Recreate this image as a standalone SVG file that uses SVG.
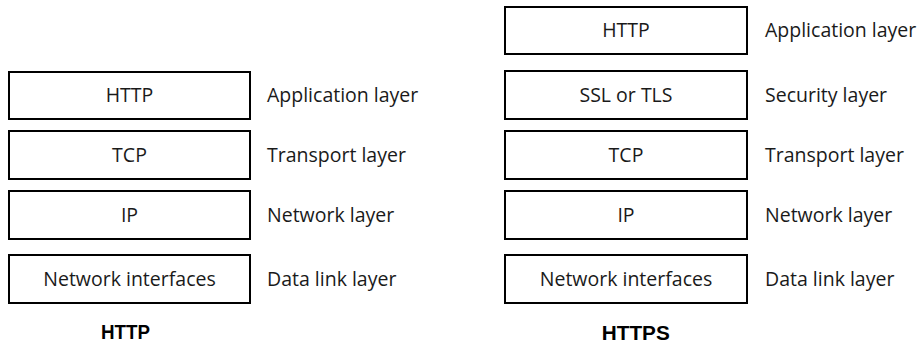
<svg xmlns="http://www.w3.org/2000/svg" width="924" height="344" viewBox="0 0 924 344">
<style>
.box{fill:#fff;stroke:#000;stroke-width:2}
.t{font-family:"Open Sans","Noto Sans","Liberation Sans",sans-serif;font-size:19.5px;fill:#1a1a1a}
.c{text-anchor:middle}
.cap{font-family:"Liberation Sans",Arial,sans-serif;font-weight:bold;font-size:20px;fill:#000;text-anchor:middle}
</style>
<rect width="924" height="344" fill="#fff"/>
<g id="http-stack">
<g id="l-http"><rect class="box" x="9" y="72" width="241" height="47"/><text class="t c" x="129.5" y="102">HTTP</text><text class="t" x="267" y="102">Application layer</text></g>
<g id="l-tcp"><rect class="box" x="9" y="131" width="241" height="48"/><text class="t c" x="129.5" y="162">TCP</text><text class="t" x="267" y="162">Transport layer</text></g>
<g id="l-ip"><rect class="box" x="9" y="191" width="241" height="48"/><text class="t c" x="129.5" y="222">IP</text><text class="t" x="267" y="222">Network layer</text></g>
<g id="l-ni"><rect class="box" x="9" y="255" width="241" height="48"/><text class="t c" x="129.5" y="286">Network interfaces</text><text class="t" x="267" y="286">Data link layer</text></g>
<g id="l-title"><text class="cap" x="125.5" y="339" textLength="49" lengthAdjust="spacingAndGlyphs">HTTP</text></g>
</g>
<g id="https-stack">
<g id="r-http"><rect class="box" x="505" y="7" width="242" height="47"/><text class="t c" x="626" y="37">HTTP</text><text class="t" x="765" y="37">Application layer</text></g>
<g id="r-ssl"><rect class="box" x="505" y="71" width="242" height="48"/><text class="t c" x="626" y="102">SSL or TLS</text><text class="t" x="765" y="102">Security layer</text></g>
<g id="r-tcp"><rect class="box" x="505" y="131" width="242" height="48"/><text class="t c" x="626" y="162">TCP</text><text class="t" x="765" y="162">Transport layer</text></g>
<g id="r-ip"><rect class="box" x="505" y="191" width="242" height="48"/><text class="t c" x="626" y="222">IP</text><text class="t" x="765" y="222">Network layer</text></g>
<g id="r-ni"><rect class="box" x="505" y="255" width="242" height="48"/><text class="t c" x="626" y="286">Network interfaces</text><text class="t" x="765" y="286">Data link layer</text></g>
<g id="r-title"><text class="cap" x="635.8" y="340" textLength="68" lengthAdjust="spacingAndGlyphs">HTTPS</text></g>
</g>
<g id="connectors"/>
</svg>
